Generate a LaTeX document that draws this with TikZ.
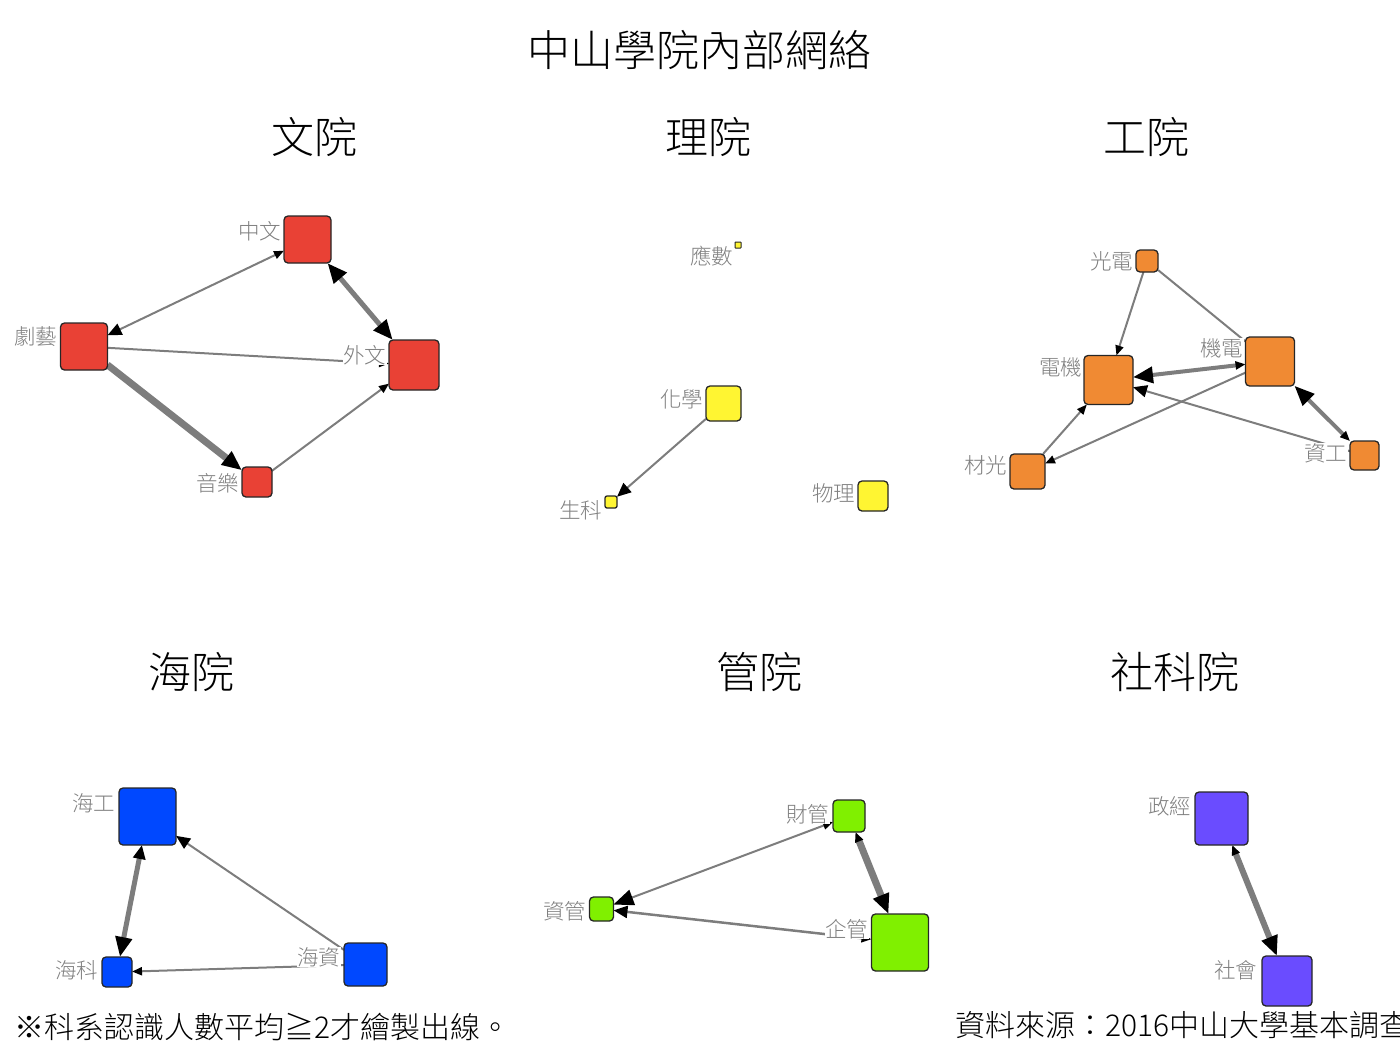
\documentclass[tikz,border=0pt]{standalone}
\usepackage{fontspec}
\IfFontExistsTF{Noto Sans CJK TC Light}{\newfontfamily\cjk{Noto Sans CJK TC Light}}{\newfontfamily\cjk{Noto Sans CJK TC}}
\usetikzlibrary{arrows.meta}
\pgfdeclarelayer{edgelayer}
\pgfdeclarelayer{labellayer}
\pgfsetlayers{edgelayer,labellayer,main}
\definecolor{cwen}{RGB}{233,65,53}
\definecolor{cli}{RGB}{255,245,50}
\definecolor{cgong}{RGB}{240,138,51}
\definecolor{chai}{RGB}{0,72,255}
\definecolor{cguan}{RGB}{128,240,0}
\definecolor{cshe}{RGB}{106,76,255}
\definecolor{lblgray}{RGB}{128,128,128}
\definecolor{edgegray}{RGB}{125,125,125}
\tikzset{
  box/.style={draw=black!85, line width=1.3pt, rounded corners=4pt, minimum size=#1, inner sep=0pt, outer sep=0pt},
  lbl/.style={font=\cjk\fontsize{21.5}{21.5}\selectfont, text=lblgray, fill=white, inner sep=0.5pt, anchor=east},
  ttl/.style={font=\cjk\fontsize{43}{43}\selectfont, inner sep=0pt},
  note/.style={font=\cjk\fontsize{30}{30}\selectfont, anchor=west, inner sep=0pt},
  edg/.style={draw=edgegray, line width=#1},
  edg/.default=2pt,
  tipS/.tip={Triangle[length=10pt,width=8pt,color=black,fill=black]},
  tipM/.tip={Triangle[length=14pt,width=12pt,color=black,fill=black]},
  tipB/.tip={Triangle[length=20pt,width=16pt,color=black,fill=black]},
}
\begin{document}
\begin{tikzpicture}[x=1pt,y=-1pt]
\useasboundingbox (0,0) rectangle (1400,1050);
% titles
\node[ttl] (title) at (699,50) {中山學院內部網絡};
\node[ttl] (twen) at (314.5,137) {文院};
\node[ttl] (tli) at (708.5,137) {理院};
\node[ttl] (tgong) at (1146,137) {工院};
\node[ttl] (thai) at (191,672) {海院};
\node[ttl] (tguan) at (759.5,672) {管院};
\node[ttl] (tshe) at (1175,672) {社科院};
% ---- 文院 ----
\node[box=47pt, fill=cwen] (zw) at (307.5,239.5) {};
\node[box=47pt, fill=cwen] (jy) at (84,346.5) {};
\node[box=50pt, fill=cwen] (ww) at (414,365) {};
\node[box=30pt, fill=cwen] (yy) at (257,482) {};
% ---- 理院 ----
\node[box=6pt, line width=1pt, rounded corners=0.5pt, fill=cli] (ys) at (738,245) {};
\node[box=35pt, fill=cli] (hx) at (723.5,403.5) {};
\node[box=12pt, rounded corners=2pt, fill=cli] (sk) at (611,502) {};
\node[box=30pt, fill=cli] (wl) at (873,496) {};
% ---- 工院 ----
\node[box=22pt, fill=cgong] (gd) at (1147,261) {};
\node[box=49pt, fill=cgong] (dj) at (1108.5,380) {};
\node[box=49pt, fill=cgong] (jd) at (1270,361.5) {};
\node[box=35pt, fill=cgong] (cg) at (1027.5,471.5) {};
\node[box=29pt, fill=cgong] (zg) at (1364.5,455.5) {};
% ---- 海院 ----
\node[box=57pt, fill=chai] (hg) at (147.5,816.5) {};
\node[box=30pt, fill=chai] (hk) at (117,972) {};
\node[box=43pt, fill=chai] (hz) at (365.5,964.5) {};
% ---- 管院 ----
\node[box=32pt, fill=cguan] (cgn) at (849,816) {};
\node[box=24pt, fill=cguan] (zgn) at (601.5,909) {};
\node[box=57pt, fill=cguan] (qg) at (900,942.5) {};
% ---- 社科院 ----
\node[box=53pt, fill=cshe] (zj) at (1221.5,818.5) {};
\node[box=50pt, fill=cshe] (sh) at (1287,981) {};
% ---- edges ----
\begin{pgfonlayer}{edgelayer}
\draw[edg, {tipM}-{tipS}] (jy) -- (zw);
\draw[edg=5pt, {tipB}-{tipB}] (zw) -- (ww);
\draw[edg, -{tipS}] (jy) -- (ww);
\draw[edg=7pt, -{tipB}] (jy) -- (yy);
\draw[edg, -{tipS}] (yy) -- (ww);
\draw[edg, -{tipM}] (hx) -- (sk);
\draw[edg, -{tipS}] (gd) -- (dj);
\draw[edg] (gd) -- (jd);
\draw[edg=4pt, {tipB}-{tipS}] (dj) -- (jd);
\draw[edg, -{tipS}] (jd) -- (cg);
\draw[edg, -{tipS}] (cg) -- (dj);
\draw[edg, -{tipM}] (zg) -- (dj);
\draw[edg=4pt, {tipS}-{tipB}] (zg) -- (jd);
\draw[edg=5pt, {tipM}-{tipB}] (hg) -- (hk);
\draw[edg, -{tipM}] (hz) -- (hg);
\draw[edg, -{tipS}] (hz) -- (hk);
\draw[edg, {tipB}-{tipS}] (zgn) -- (cgn);
\draw[edg=7pt, {tipS}-{tipB}] (cgn) -- (qg);
\draw[edg=2.5pt, {tipS}-{tipM}] (qg) -- (zgn);
\draw[edg=6pt, {tipS}-{tipB}] (zj) -- (sh);
\end{pgfonlayer}
% ---- labels ----
\begin{pgfonlayer}{labellayer}
\node[lbl] (lzw) at (282,231) {中文};
\node[lbl] (ljy) at (58,337) {劇藝};
\node[lbl] (lww) at (387,355) {外文};
\node[lbl] (lyy) at (240,483) {音樂};
\node[lbl] (lys) at (734,256) {應數};
\node[lbl] (lhx) at (704,399) {化學};
\node[lbl] (lsk) at (603,510) {生科};
\node[lbl] (lwl) at (856,493) {物理};
\node[lbl] (lgd) at (1134,261) {光電};
\node[lbl] (ldj) at (1083,367) {電機};
\node[lbl] (ljd) at (1244,348) {機電};
\node[lbl] (lcg) at (1008,465) {材光};
\node[lbl] (lzg) at (1348,453) {資工};
\node[lbl] (lhg) at (116,803) {海工};
\node[lbl] (lhk) at (99,970) {海科};
\node[lbl] (lhz) at (341,957) {海資};
\node[lbl] (lcgn) at (830,814) {財管};
\node[lbl] (lzgn) at (587,911) {資管};
\node[lbl] (lqg) at (869,929) {企管};
\node[lbl] (lzj) at (1192,806) {政經};
\node[lbl] (lsh) at (1258,970) {社會};
\end{pgfonlayer}
% ---- notes ----
\node[note] (n1) at (14,1027) {※科系認識人數平均≧2才繪製出線。};
\node[note] (n2) at (955,1025) {資料來源：2016中山大學基本調查};
\end{tikzpicture}
\end{document}
